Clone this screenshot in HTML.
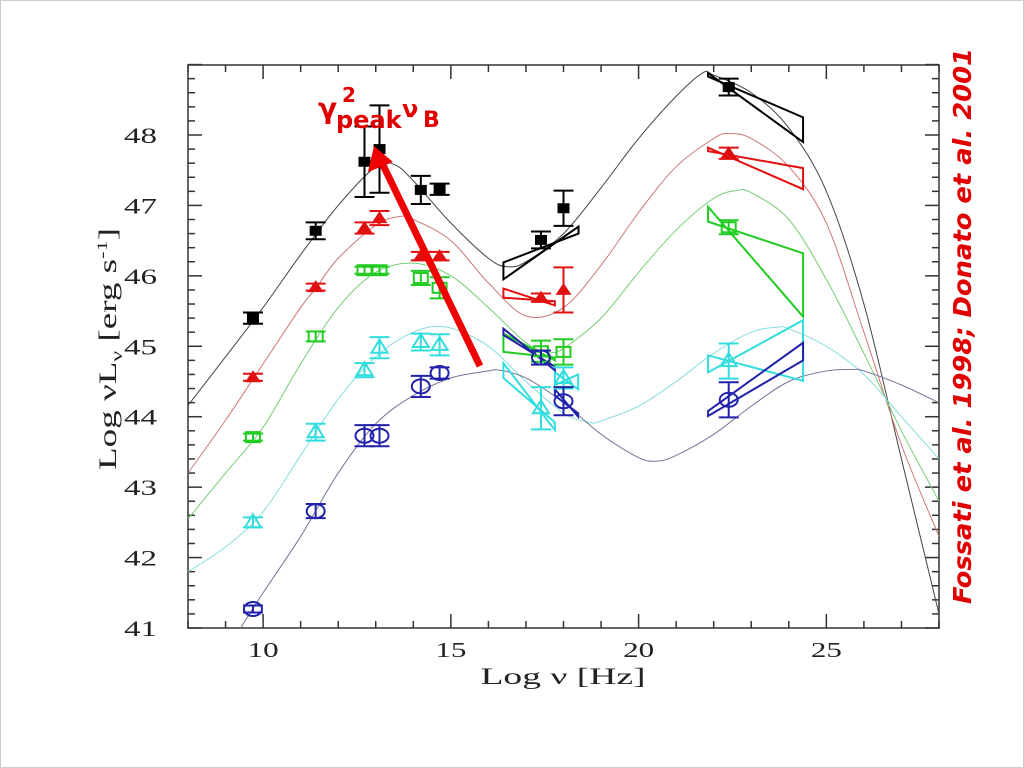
<!DOCTYPE html>
<html><head><meta charset="utf-8"><style>
html,body{margin:0;padding:0;background:#fff;}
body{width:1024px;height:768px;overflow:hidden;position:relative;}
svg{position:absolute;left:0;top:0;}
</style></head><body>
<svg id="chart" width="1024" height="768" xmlns="http://www.w3.org/2000/svg">
<rect x="0.5" y="0.5" width="1023" height="767" fill="#fff" stroke="#ccc"/>
<g id="plot"></g>
<text x="563" y="684" font-family="Liberation Serif, serif" font-size="23" text-anchor="middle" fill="#222" textLength="165" lengthAdjust="spacingAndGlyphs">Log ν  [Hz]</text>
<text transform="translate(116,349) rotate(-90)" font-family="Liberation Serif, serif" font-size="25" text-anchor="middle" fill="#222" textLength="242" lengthAdjust="spacingAndGlyphs">Log νL<tspan font-size="16" dy="6">ν</tspan><tspan dy="-6"> [erg s</tspan><tspan font-size="15" dy="-9">-1</tspan><tspan dy="9">]</tspan></text>
<g font-family="DejaVu Sans, sans-serif" font-weight="bold" fill="#e00000">
<text x="318" y="118" font-size="28">γ</text>
<text x="342" y="102" font-size="20">2</text>
<text x="336" y="128" font-size="24">peak</text>
<text x="402" y="117" font-size="24">ν</text>
<text x="423" y="127" font-size="22">B</text>
</g>
<line x1="480" y1="366" x2="383" y2="165" stroke="#f00000" stroke-width="7"/>
<polygon points="374,146 368,172 393,162" fill="#f00000"/>
<text transform="translate(971,326) rotate(-90)" font-family="DejaVu Sans, sans-serif" font-weight="bold" font-style="italic" font-size="25" text-anchor="middle" fill="#e00000" textLength="556" lengthAdjust="spacingAndGlyphs">Fossati et al. 1998; Donato et al. 2001</text>
</svg>
<script>
// ---- data ----
const xTicks=[10,15,20,25];
const yTicks=[41,42,43,44,45,46,47,48];
const seriesNames=['black','red','green','cyan','blue'];
const markerX=[9.73,11.4,12.7,13.1,14.2,14.7,17.4,18.0,22.4];
const blackY=[45.40,46.64,47.62,47.80,47.22,47.23,46.51,46.96,48.68];
const blackErr=[0.08,0.12,0.5,0.62,0.2,0.08,0.12,0.25,0.12];
const redY=[44.56,45.84,46.68,46.82,46.28,46.28,45.69,45.80,47.74];
const redErr=[0.05,0.05,0.08,0.1,0.06,0.06,0.06,0.32,0.08];
const greenY=[43.71,45.14,46.08,46.08,45.97,45.83,44.93,44.92,46.69];
const greenErr=[0.05,0.07,0.05,0.05,0.1,0.15,0.15,0.18,0.1];
const cyanY=[42.50,43.78,44.66,44.98,45.06,45.02,44.12,44.55,44.79];
const cyanErr=[0.07,0.12,0.1,0.15,0.12,0.15,0.3,0.15,0.25];
const blueY=[41.27,42.66,43.73,43.73,44.43,44.62,44.84,44.22,44.24];
const blueErr=[0.05,0.1,0.15,0.15,0.15,0.08,0.1,0.2,0.25];
const curveBlackX=[8,9,10,11,12,13,13.5,14,15,16,16.5,17,18,19,20,21,21.7,22,23,24,25,26,27,28];
const curveBlackY=[44.16,44.85,45.55,46.3,47.0,47.55,47.58,47.35,46.75,46.25,46.13,46.2,46.6,47.25,47.95,48.55,48.88,48.85,48.6,48.1,47.2,45.6,43.4,41.2];
const curveRedX=[8,9,10,11,11.4,12,13,13.6,14,15,16,17,18,19,20,21,22,22.4,23,24,25,26,27,28];
const curveRedY=[43.2,43.95,44.75,45.55,45.82,46.25,46.72,46.84,46.8,46.5,45.9,45.43,45.55,46.15,46.9,47.55,47.95,48.02,47.95,47.55,46.75,45.2,43.6,42.3];
const curveGreenX=[8,9,10,11,12,13,14,15,16,17,17.6,18,19,20,21,22,22.6,23,24,25,26,27,28];
const curveGreenY=[42.55,43.2,43.85,44.75,45.55,46.05,46.18,46.0,45.55,45.05,44.92,44.97,45.4,46.05,46.65,47.1,47.21,47.18,46.8,45.95,44.9,43.8,42.8];
const curveCyanX=[8,9,10,11,12,13,14,14.9,16,17,18,18.7,19,20,21,22,23,23.7,24,25,26,27,28];
const curveCyanY=[41.8,42.15,42.65,43.45,44.25,44.85,45.2,45.27,45.0,44.5,44.05,43.92,43.94,44.15,44.5,44.9,45.2,45.27,45.25,45.0,44.6,44.0,43.4];
const curveBlueX=[9.4,10,11,12,13,14,15,16,16.3,17,18,19,20,20.5,21,22,23,24,25,25.7,26,27,28];
const curveBlueY=[41.0,41.5,42.3,43.2,43.9,44.3,44.55,44.65,44.66,44.55,44.2,43.75,43.42,43.37,43.45,43.75,44.15,44.5,44.65,44.67,44.65,44.45,44.2];
// bowties: [x1, x2, leftA, rightA, leftB, rightB]
const bowBlackX=[16.4,18.4,46.19,46.6,45.95,46.7];
const bowBlackG=[21.85,24.38,48.88,47.9,48.83,48.25];
const bowRedX=[16.4,17.77,45.82,45.58,45.69,45.64];
const bowRedG=[21.85,24.38,47.82,47.23,47.77,47.53];
const bowGreenX=[16.4,17.77,45.18,44.8,44.92,44.84];
const bowGreenG=[21.85,24.38,46.98,45.42,46.77,46.32];
const bowCyanX=[16.4,17.77,44.76,43.81,44.55,43.92];
const bowCyanX2=[17.77,18.39,44.63,44.39,44.45,44.6];
const bowCyanG=[21.85,24.38,44.87,44.51,44.63,45.37];
const bowBlueX=[16.4,17.77,45.25,44.66,45.16,44.71];
const bowBlueX2=[17.77,18.39,44.39,44.0,44.3,44.05];
const bowBlueG=[21.85,24.38,44.08,45.05,44.01,44.8];

const X=v=>188+(v-8)*37.55;
const Y=v=>628-(v-41)*70.43;
const NS='http://www.w3.org/2000/svg';
const plot=document.getElementById('plot');
function mk(tag,attrs,parent){const e=document.createElementNS(NS,tag);for(const k in attrs)e.setAttribute(k,attrs[k]);(parent||plot).appendChild(e);return e;}

// frame + ticks
const frame=mk('rect',{x:188,y:65,width:751,height:563,fill:'none',stroke:'#333','stroke-width':1.5});


for(let v=8;v<=28;v++){
  const major=xTicks.includes(v);const L=major?14:7;
  const t1=mk('line',{x1:X(v),x2:X(v),y1:628,y2:628-L,stroke:'#333','stroke-width':1.5});
  
  
  const t2=mk('line',{x1:X(v),x2:X(v),y1:65,y2:65+L,stroke:'#333','stroke-width':1.5});
  
  
}
xTicks.forEach(v=>{const t=mk('text',{x:X(v),y:657,'text-anchor':'middle','font-family':'Liberation Serif, serif','font-size':21,fill:'#222',textLength:31,lengthAdjust:'spacingAndGlyphs'});t.textContent=v;
  
  });
for(let i=0;i<=40;i++){
  const v=41+i*0.2;const major=i%5===0;const L=major?14:7;
  const t1=mk('line',{x1:188,x2:188+L,y1:Y(v),y2:Y(v),stroke:'#333','stroke-width':1.5});
  
  
  const t2=mk('line',{x1:939,x2:939-L,y1:Y(v),y2:Y(v),stroke:'#333','stroke-width':1.5});
  
  
}
yTicks.forEach(v=>{const t=mk('text',{x:157,y:Y(v)+8,'text-anchor':'end','font-family':'Liberation Serif, serif','font-size':22,fill:'#222',textLength:33,lengthAdjust:'spacingAndGlyphs'});t.textContent=v;
  
  });

// curves
function smoothPath(xs,ys){
  const p=xs.map((x,i)=>[X(x),Y(ys[i])]);
  let d='M'+p[0][0]+','+p[0][1];
  for(let i=0;i<p.length-1;i++){
    const p0=p[i-1]||p[i],p1=p[i],p2=p[i+1],p3=p[i+2]||p2;
    const c1=[p1[0]+(p2[0]-p0[0])/6,p1[1]+(p2[1]-p0[1])/6];
    const c2=[p2[0]-(p3[0]-p1[0])/6,p2[1]-(p3[1]-p1[1])/6];
    d+=' C'+c1+' '+c2+' '+p2;
  }
  return d;
}
const clip=mk('clipPath',{id:'pc'});mk('rect',{x:188,y:65,width:751,height:563},clip);
const curves=[[curveBlackX,curveBlackY,'#444','model-curve-black'],[curveRedX,curveRedY,'#c77','model-curve-red'],[curveGreenX,curveGreenY,'#7c7','model-curve-green'],[curveCyanX,curveCyanY,'#8dd','model-curve-cyan'],[curveBlueX,curveBlueY,'#779','model-curve-blue']];
curves.forEach(c=>{const p=mk('path',{d:smoothPath(c[0],c[1]),fill:'none',stroke:c[2],'stroke-width':1,'clip-path':'url(#pc)'});
  
  });

// bowties
function bow(b,color,name){
  const pts=[[X(b[0]),Y(b[2])],[X(b[1]),Y(b[3])],[X(b[1]),Y(b[5])],[X(b[0]),Y(b[4])]];
  const p=mk('polygon',{points:pts.map(q=>q.join(',')).join(' '),fill:'none',stroke:color,'stroke-width':2});
  
  
}
bow(bowBlackX,'#000','bowtie-black-xray');bow(bowBlackG,'#000','bowtie-black-gamma');
bow(bowRedX,'#e01010','bowtie-red-xray');bow(bowRedG,'#e01010','bowtie-red-gamma');
bow(bowGreenX,'#22cc22','bowtie-green-xray');bow(bowGreenG,'#22cc22','bowtie-green-gamma');
bow(bowCyanX,'#33dddd','bowtie-cyan-xray');bow(bowCyanX2,'#33dddd','bowtie-cyan-xray-2');bow(bowCyanG,'#33dddd','bowtie-cyan-gamma');
bow(bowBlueX,'#2222aa','bowtie-blue-xray');bow(bowBlueX2,'#2222aa','bowtie-blue-xray-2');bow(bowBlueG,'#2222aa','bowtie-blue-gamma');

// markers
function drawSeries(ys,errs,color,shape,name){
  markerX.forEach((xv,i)=>{
    const cx=X(xv),cy=Y(ys[i]),e=errs[i]*70.43;
    const g=mk('g',{stroke:color,'stroke-width':2,fill:'none'});
    
    
    mk('line',{x1:cx,x2:cx,y1:cy-e,y2:cy+e},g);
    mk('line',{x1:cx-10,x2:cx+10,y1:cy-e,y2:cy-e},g);
    mk('line',{x1:cx-10,x2:cx+10,y1:cy+e,y2:cy+e},g);
    if(shape==='sq')mk('rect',{x:cx-6,y:cy-5,width:12,height:10,fill:color,stroke:'none'},g);
    else if(shape==='osq')mk('rect',{x:cx-7,y:cy-5,width:14,height:10},g);
    else if(shape==='tri')mk('polygon',{points:`${cx},${cy-7} ${cx-8},${cy+5} ${cx+8},${cy+5}`,fill:color,stroke:'none'},g);
    else if(shape==='otri')mk('polygon',{points:`${cx},${cy-8} ${cx-8},${cy+5} ${cx+8},${cy+5}`},g);
    else mk('ellipse',{cx:cx,cy:cy,rx:9,ry:7},g);
  });
}
drawSeries(blackY,blackErr,'#000','sq','black');
drawSeries(redY,redErr,'#e01010','tri','red');
drawSeries(greenY,greenErr,'#22cc22','osq','green');
drawSeries(cyanY,cyanErr,'#33dddd','otri','cyan');
drawSeries(blueY,blueErr,'#2222aa','circ','blue');
</script>
</body></html>
